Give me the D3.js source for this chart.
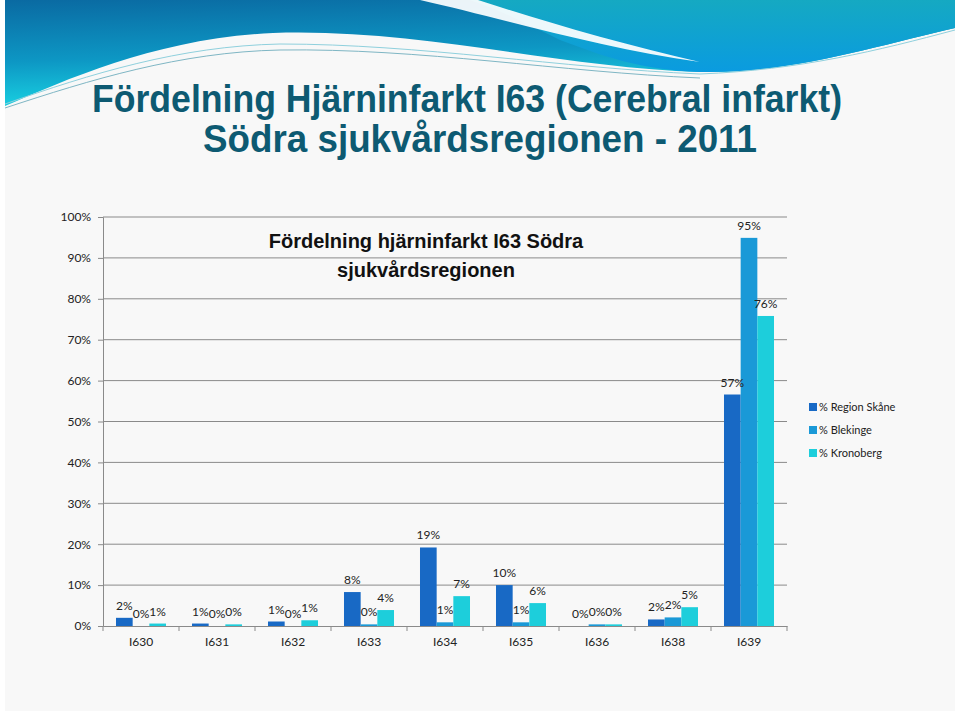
<!DOCTYPE html>
<html>
<head>
<meta charset="utf-8">
<script src="https://cdn.jsdelivr.net/npm/d3@7"></script>
<style>
  body { margin: 0; background: #fff; }
  svg { display: block; }
  .tick text { font-family: Lato, "Noto Sans", sans-serif; font-size: 12px; fill: #222; }
</style>
</head>
<body>
<div class="container"></div>
<script>
// Data (percent)
const categories = ["I630", "I631", "I632", "I633", "I634", "I635", "I636", "I638", "I639"];
const seriesNames = ["% Region Skåne", "% Blekinge", "% Kronoberg"];
const skane = [2.0, 0.6, 1.1, 8.3, 19.2, 10.0, 0.0, 1.6, 56.6];
const blekinge = [0.0, 0.0, 0.0, 0.4, 0.9, 0.9, 0.4, 2.1, 94.9];
const kronoberg = [0.6, 0.4, 1.4, 3.9, 7.3, 5.6, 0.4, 4.6, 75.8];
const yTicks = [0, 10, 20, 30, 40, 50, 60, 70, 80, 90, 100];
const colors = ["#1869c5", "#1a99d7", "#1dcedb"];

const W = 960, H = 716;
const plot = { left: 103, right: 787, top: 217, bottom: 626 };

const svg = d3.select(".container").append("svg").attr("width", W).attr("height", H);

// Slide background
svg.append("rect").attr("width", W).attr("height", H).attr("fill", "#fff");
svg.append("rect").attr("x", 5).attr("y", 0).attr("width", 950).attr("height", 711).attr("fill", "#f8f8f8");

// Header swoosh
const defs = svg.append("defs");
const g1 = defs.append("linearGradient").attr("id", "gMain").attr("x1", "0").attr("y1", "0").attr("x2", "0.25").attr("y2", "1");
g1.append("stop").attr("offset", "0").attr("stop-color", "#0a6aa2");
g1.append("stop").attr("offset", "0.55").attr("stop-color", "#0d97c4");
g1.append("stop").attr("offset", "1").attr("stop-color", "#1ad6e4");
const g2 = defs.append("linearGradient").attr("id", "gRight").attr("x1", "0").attr("y1", "0").attr("x2", "0").attr("y2", "1");
g2.append("stop").attr("offset", "0").attr("stop-color", "#15a9c2");
g2.append("stop").attr("offset", "1").attr("stop-color", "#0a9be0");

svg.append("path")
  .attr("d", "M5,0 L955,0 L955,28 C880,45 790,74 700,72 C560,68 420,28 273,33 C160,38 70,78 5,106 Z")
  .attr("fill", "url(#gMain)");
svg.append("path")
  .attr("d", "M470,0 L955,0 L955,28 C880,45 790,74 700,72 C640,70 600,55 560,40 C530,25 500,10 470,0 Z")
  .attr("fill", "url(#gRight)");
svg.append("path")
  .attr("d", "M420,0 C500,18 600,48 700,62 C620,44 540,20 478,0 Z")
  .attr("fill", "#fff").attr("opacity", 0.92);
svg.append("path")
  .attr("d", "M5,108 C90,80 180,52 280,50 C420,48 560,72 700,78")
  .attr("fill", "none").attr("stroke", "#7fb6c4").attr("stroke-width", 1);
svg.append("path")
  .attr("d", "M5,104 C90,74 180,46 280,44 C420,44 560,68 700,74 C800,70 880,50 955,30")
  .attr("fill", "none").attr("stroke", "#8fd0dd").attr("stroke-width", 1);

// Slide title
svg.append("text")
  .attr("x", 92).attr("y", 112)
  .attr("textLength", 750).attr("lengthAdjust", "spacingAndGlyphs")
  .attr("font-family", "Liberation Sans, Arial, sans-serif").attr("font-weight", "bold")
  .attr("font-size", 38).attr("fill", "#0d5a72")
  .text("Fördelning Hjärninfarkt I63 (Cerebral infarkt)");
svg.append("text")
  .attr("x", 203).attr("y", 152)
  .attr("textLength", 554).attr("lengthAdjust", "spacingAndGlyphs")
  .attr("font-family", "Liberation Sans, Arial, sans-serif").attr("font-weight", "bold")
  .attr("font-size", 38).attr("fill", "#0d5a72")
  .text("Södra sjukvårdsregionen - 2011");

// Scales
const x0 = d3.scaleBand().domain(categories)
  .range([plot.left, plot.right]).paddingInner(0.342).paddingOuter(0.171);
const x1 = d3.scaleBand().domain(seriesNames).range([0, x0.bandwidth()]);
const y = d3.scaleLinear().domain([0, 100]).range([plot.bottom, plot.top]);

// Gridlines
svg.append("g").selectAll("line").data(yTicks.filter(d => d > 0)).join("line")
  .attr("x1", plot.left).attr("x2", plot.right)
  .attr("y1", d => y(d)).attr("y2", d => y(d))
  .attr("stroke", "#8a8a8a").attr("stroke-width", 1);

// Y axis
const yAxis = svg.append("g").attr("transform", `translate(${plot.left},0)`)
  .call(d3.axisLeft(y).tickValues(yTicks).tickFormat(d => d + "%").tickSize(5).tickPadding(7));
yAxis.selectAll("path, line").attr("stroke", "#8a8a8a");

// X axis
const xAxis = svg.append("g").attr("transform", `translate(0,${plot.bottom})`)
  .call(d3.axisBottom(x0).tickSize(0).tickPadding(11).tickSizeOuter(0));
xAxis.select("path").attr("stroke", "#8a8a8a");
const step = x0.step();
const bounds = d3.range(categories.length + 1).map(i => plot.left + i * step);
xAxis.selectAll(".bound").data(bounds).join("line").attr("class", "bound")
  .attr("x1", d => d).attr("x2", d => d).attr("y1", 0).attr("y2", 5)
  .attr("stroke", "#8a8a8a");

// Bars
const rows = categories.map((c, i) => ({ cat: c, vals: [skane[i], blekinge[i], kronoberg[i]] }));
const groups = svg.append("g").selectAll("g").data(rows).join("g")
  .attr("transform", d => `translate(${x0(d.cat)},0)`);
groups.selectAll("rect").data(d => d.vals.map((v, k) => ({ v, k }))).join("rect")
  .attr("x", d => x1(seriesNames[d.k]))
  .attr("width", x1.bandwidth())
  .attr("y", d => y(d.v))
  .attr("height", d => y(0) - y(d.v))
  .attr("fill", d => colors[d.k]);

// Data labels
const fmt = d3.format(".0%");
groups.selectAll("text").data(d => d.vals.map((v, k) => ({ v, k }))).join("text")
  .attr("x", d => x1(seriesNames[d.k]) + x1.bandwidth() / 2)
  .attr("y", d => y(d.v) - 8)
  .attr("text-anchor", "middle")
  .attr("font-family", "Lato, 'Noto Sans', sans-serif").attr("font-size", 12).attr("fill", "#222")
  .text(d => fmt(d.v / 100));

// Chart title
svg.append("text")
  .attr("x", 426).attr("y", 248).attr("text-anchor", "middle")
  .attr("font-family", "Liberation Sans, Arial, sans-serif").attr("font-weight", "bold")
  .attr("font-size", 20).attr("fill", "#111")
  .text("Fördelning hjärninfarkt I63 Södra");
svg.append("text")
  .attr("x", 426).attr("y", 277).attr("text-anchor", "middle")
  .attr("font-family", "Liberation Sans, Arial, sans-serif").attr("font-weight", "bold")
  .attr("font-size", 20).attr("fill", "#111")
  .text("sjukvårdsregionen");

// Legend
const legend = svg.append("g").attr("transform", "translate(809,403)");
const li = legend.selectAll("g").data(seriesNames).join("g")
  .attr("transform", (d, i) => `translate(0,${i * 23})`);
li.append("rect").attr("width", 8).attr("height", 8).attr("fill", (d, i) => colors[i]);
li.append("text").attr("x", 10).attr("y", 8)
  .attr("font-family", "Lato, 'Noto Sans', sans-serif").attr("font-size", 11).attr("fill", "#222")
  .text(d => d);
</script>
</body>
</html>
